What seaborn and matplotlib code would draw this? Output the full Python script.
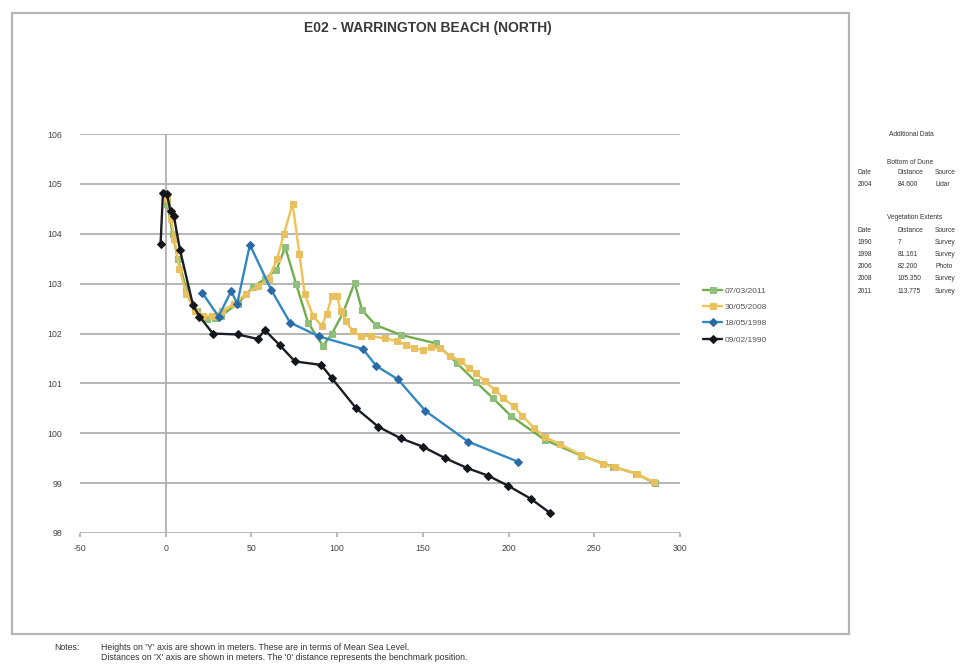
"""
E02 - Warrington Beach (North): beach profile surveys
"""

import pandas as pd
import numpy as np
import matplotlib.pyplot as plt
import matplotlib.patches as mpatches
import seaborn as sns

sns.set_theme(style='white')
plt.rcParams['font.family'] = ['Liberation Sans Narrow', 'Liberation Sans', 'DejaVu Sans']

# --- data (distance from benchmark in m, height in m above MSL) ---
dist_2011 = [1, 4, 7, 12, 18, 24, 28.5, 32.4, 42, 50.9, 58, 64.5, 69.7, 76, 83, 91.7, 97,
             103.4, 110.2, 114.5, 122.4, 137.4, 157.8, 170, 181.2, 191, 201.6, 221, 242.4,
             260.9, 274.5, 285.2]
height_2011 = [104.6, 104.0, 103.5, 102.9, 102.45, 102.3, 102.31, 102.36, 102.6, 102.93, 103.1,
               103.27, 103.73, 103.0, 102.22, 101.75, 102.0, 102.41, 103.02, 102.47, 102.17,
               101.97, 101.8, 101.4, 101.02, 100.7, 100.34, 99.87, 99.55, 99.33, 99.19, 99.0]

dist_2008 = [1, 3, 5, 8, 12, 17, 22, 27, 33, 40, 47, 54, 60, 65, 69, 74, 78, 81, 86, 91, 94, 97,
             100, 102, 105, 109, 114, 120, 128, 135, 140, 145, 150, 155, 160, 166, 172, 177,
             181, 186, 192, 197, 203, 208, 215, 221, 230, 242, 255, 262, 275, 285]
height_2008 = [104.7, 104.3, 103.9, 103.3, 102.8, 102.45, 102.35, 102.35, 102.45, 102.6, 102.8,
               102.95, 103.1, 103.5, 104.0, 104.6, 103.6, 102.8, 102.35, 102.15, 102.4, 102.75,
               102.75, 102.45, 102.25, 102.05, 101.95, 101.95, 101.9, 101.85, 101.77, 101.7,
               101.67, 101.72, 101.7, 101.55, 101.45, 101.3, 101.2, 101.05, 100.87, 100.7,
               100.54, 100.35, 100.1, 99.93, 99.78, 99.57, 99.38, 99.32, 99.18, 99.02]

dist_1998 = [21.3, 30.8, 38.2, 41.7, 49.1, 61.6, 72.5, 89.5, 115, 122.8, 135.5, 151.4, 176.5,
             205.5]
height_1998 = [102.82, 102.34, 102.85, 102.6, 103.78, 102.87, 102.22, 101.94, 101.69, 101.35,
               101.08, 100.45, 99.83, 99.43]

dist_1990 = [-3, -1.6, 0.7, 2.8, 4.8, 8.3, 15.9, 19.7, 27.5, 42.1, 53.8, 57.7, 66.4, 75.4, 90.7,
             97, 111.1, 124, 137, 150, 163, 176, 188, 199.6, 212.8, 223.9]
height_1990 = [103.8, 104.82, 104.8, 104.45, 104.35, 103.68, 102.57, 102.34, 102.0, 101.98,
               101.89, 102.07, 101.77, 101.44, 101.37, 101.1, 100.5, 100.13, 99.9, 99.73, 99.5,
               99.3, 99.15, 98.95, 98.69, 98.41]

survey_labels = ['07/03/2011', '30/05/2008', '18/05/1998', '09/02/1990']

x_ticks = [-50, 0, 50, 100, 150, 200, 250, 300]
y_ticks = [98, 99, 100, 101, 102, 103, 104, 105, 106]

dune_rows = [('2004', '84.600', 'Lidar')]
veg_rows = [('1990', '7', 'Survey'), ('1998', '81.161', 'Survey'), ('2006', '82.200', 'Photo'),
            ('2008', '105.350', 'Survey'), ('2011', '113.775', 'Survey')]

# --- build a long table ---
frames = []
for lab, d, h in zip(survey_labels,
                     [dist_2011, dist_2008, dist_1998, dist_1990],
                     [height_2011, height_2008, height_1998, height_1990]):
    frames.append(pd.DataFrame({'distance': d, 'height': h, 'survey': lab}))
df = pd.concat(frames, ignore_index=True)

line_colors = {'07/03/2011': '#72ad4c', '30/05/2008': '#f0c255',
               '18/05/1998': '#3289c2', '09/02/1990': '#1c1c24'}
marker_colors = {'07/03/2011': '#8fbf7c', '30/05/2008': '#e8c060',
                 '18/05/1998': '#2a6aa6', '09/02/1990': '#15151c'}
markers = {'07/03/2011': 's', '30/05/2008': 's', '18/05/1998': 'D', '09/02/1990': 'D'}

W, H = 973, 664
fig = plt.figure(figsize=(W / 100, H / 100), dpi=100)
fig.patch.set_facecolor('white')

# chart frame
fig.patches.append(mpatches.Rectangle((12 / W, 1 - 634 / H), (849 - 12) / W, (634 - 13) / H,
                                      transform=fig.transFigure, fill=False,
                                      edgecolor='#b5b5b5', linewidth=1.6))

ax = fig.add_axes([80 / W, 1 - 533 / H, 600 / W, (533 - 134) / H])

for lab in survey_labels:
    sub = df[df['survey'] == lab]
    sns.lineplot(data=sub, x='distance', y='height', ax=ax, sort=False, estimator=None,
                 color=line_colors[lab], linewidth=1.7, marker=markers[lab], markersize=3.8,
                 markerfacecolor=marker_colors[lab], markeredgecolor=marker_colors[lab],
                 label=lab, zorder=3)

ax.set_xlim(-50, 300)
ax.set_ylim(98, 106)
ax.set_xticks(x_ticks)
ax.set_yticks(y_ticks)
ax.set_xticklabels([str(v) for v in x_ticks])
ax.set_yticklabels([str(v) for v in y_ticks])
ax.set_xlabel('')
ax.set_ylabel('')
for v in y_ticks:
    ax.axhline(v, color='#b0b0b0', linewidth=1.3, zorder=1)
ax.axvline(0, color='#b0b0b0', linewidth=1.3, zorder=1)
for s in ax.spines.values():
    s.set_visible(False)
ax.tick_params(axis='x', bottom=True, length=3, color='#b0b0b0', pad=5, labelsize=6.3,
               labelcolor='#444444')
ax.tick_params(axis='y', left=False, pad=7, labelsize=6.3, labelcolor='#444444')

leg = ax.legend(loc='upper left', bbox_to_anchor=(699 / W, 1 - 283 / H),
                bbox_transform=fig.transFigure, frameon=False, fontsize=6,
                handlelength=2.3, handletextpad=0.3, labelspacing=1.0, borderpad=0)
for t in leg.get_texts():
    t.set_color('#555555')

fig.text(428 / W, 1 - 28 / H, 'E02 - WARRINGTON BEACH (NORTH)', ha='center', va='center',
         fontsize=10, fontweight='bold', color='#3a3a3a')


# additional data table
def ftext(x, y, s, size=4.8, **kw):
    fig.text(x / W, 1 - y / H, s, fontsize=size, color='#333333', va='center', **kw)


ftext(911, 135, 'Additional Data', ha='center')
ftext(910, 162, 'Bottom of Dune', ha='center')
ftext(858, 173, 'Date')
ftext(898, 173, 'Distance')
ftext(935, 173, 'Source')
for i, (d, dist, src) in enumerate(dune_rows):
    ftext(858, 185 + 12 * i, d)
    ftext(898, 185 + 12 * i, dist)
    ftext(935, 185 + 12 * i, src)
ftext(915, 217, 'Vegetation Extents', ha='center')
ftext(858, 230, 'Date')
ftext(898, 230, 'Distance')
ftext(935, 230, 'Source')
for i, (d, dist, src) in enumerate(veg_rows):
    ftext(858, 242 + 12.3 * i, d)
    ftext(898, 242 + 12.3 * i, dist)
    ftext(935, 242 + 12.3 * i, src)

# notes
ftext(54, 647, 'Notes:', size=6.3)
ftext(101, 647, "Heights on 'Y' axis are shown in meters. These are in terms of Mean Sea Level.",
      size=6.3)
ftext(101, 658, "Distances on 'X' axis are shown in meters. The '0' distance represents the "
                "benchmark position.", size=6.3)

fig.savefig('out.png', dpi=100, facecolor='white')
